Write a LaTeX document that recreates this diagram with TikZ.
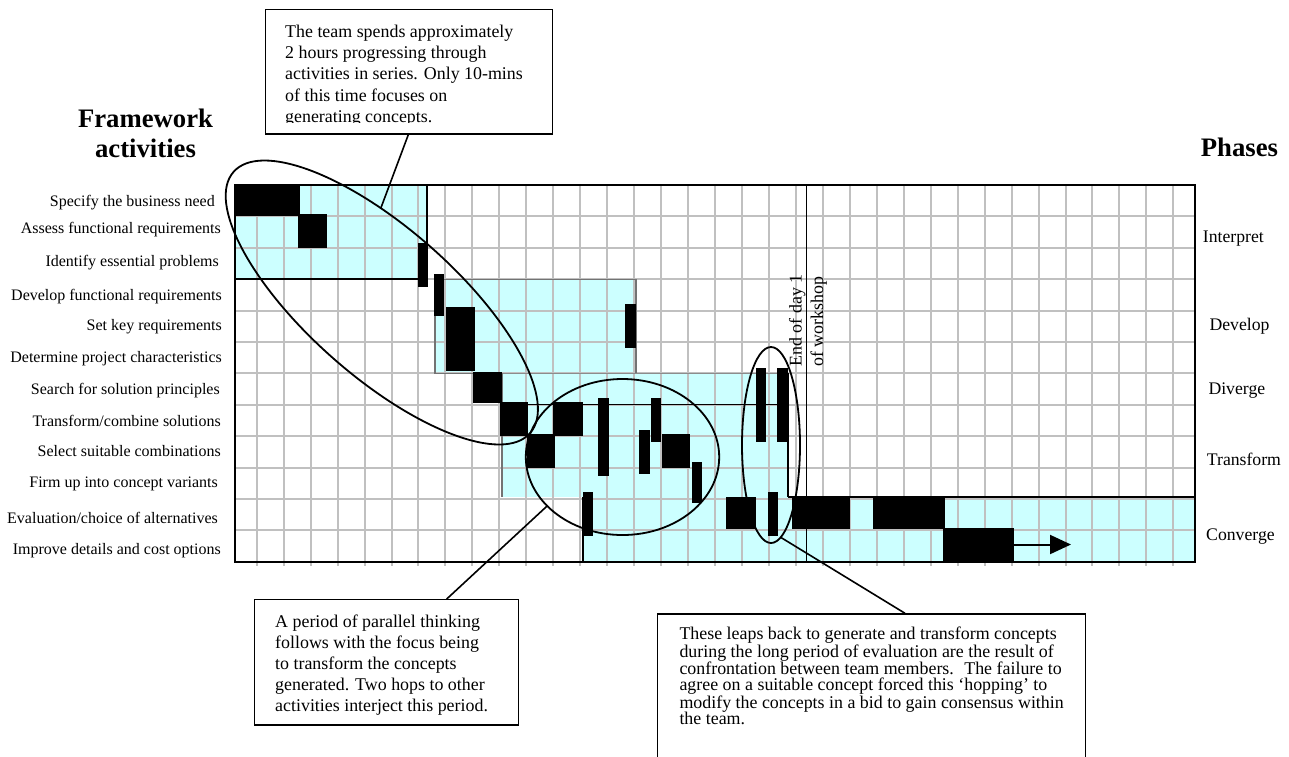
\documentclass[tikz,border=0pt]{standalone}
\usepackage{fontspec}
\setmainfont{Liberation Serif}
\usetikzlibrary{shapes.geometric,arrows.meta}
\definecolor{phasecyan}{HTML}{CCFFFF}
\definecolor{gridgrey}{HTML}{C0C0C0}
\begin{document}
\begin{tikzpicture}[x=1pt,y=1pt,
  gridline/.style={draw=gridgrey,line width=2pt},
  phaseedge/.style={draw=black!55,line width=1.2pt},
  frameline/.style={draw=black,line width=1.8pt},
  ring/.style={draw=black,ellipse,line width=1.8pt,inner sep=0pt,outer sep=0pt},
  callout/.style={draw=black,rectangle,line width=1.4pt,fill=white,inner sep=0pt,anchor=north west},
  calltext/.style={align=left,inner sep=0pt,anchor=north west,font=\fontsize{17.9}{21.1}\selectfont},
  tighttext/.style={align=left,inner sep=0pt,anchor=north west,font=\fontsize{17.9}{16.3}\selectfont},
  leader/.style={draw=black,line width=1.6pt},
  actlabel/.style={inner sep=0pt,anchor=base east,font=\fontsize{16}{19}\selectfont},
  phaselabel/.style={inner sep=0pt,anchor=base west,font=\fontsize{17.7}{21}\selectfont},
  heading/.style={inner sep=0pt,font=\fontsize{26.7}{30}\selectfont\bfseries},
  daylabel/.style={inner sep=0pt,rotate=90,anchor=base west,font=\fontsize{17.9}{21}\selectfont}]
\useasboundingbox (0,0) rectangle (1289,-756);
\fill[white] (0,0) rectangle (1289,-756);

% phase areas
\fill[phasecyan] (235,-185) rectangle (427,-279.2);     % interpret
\fill[phasecyan] (435,-279.2) rectangle (636,-373.4);   % develop
\fill[phasecyan] (502,-373.4) rectangle (788,-497);     % diverge + transform
\fill[phasecyan] (583,-497) rectangle (1195,-561.8);    % converge

% time grid
\foreach \k in {1,...,35}{
  \pgfmathsetmacro\gx{229.74+26.96*\k}
  \draw[gridline] (\gx,-185) -- (\gx,-566);
}
\foreach \j in {1,...,11}{
  \pgfmathsetmacro\gy{-185-31.4*\j}
  \draw[gridline] (235,\gy) -- (1195,\gy);
}

% phase borders
\draw[frameline] (427,-185) -- (427,-279.2) -- (235,-279.2);
\draw[phaseedge] (435,-279.2) rectangle (636,-373.4);
\draw[draw=black!45,line width=1.2pt] (502,-373.4) -- (788,-373.4);
\draw[phaseedge] (502,-373.4) -- (502,-497);
\draw[draw=black,line width=1.3pt] (502,-404.8) -- (788,-404.8);
\draw[draw=black,line width=1.5pt] (788,-373.4) -- (788,-497);
\draw[draw=black,line width=2.4pt] (788,-497) -- (1195,-497);
\draw[draw=black,line width=2.4pt] (583,-497) -- (583,-561.8) -- (1195,-561.8);
\draw[frameline] (235,-185) rectangle (1195,-561.8);

% end of the first day
\draw[draw=black,line width=1.5pt] (806.7,-185) -- (806.7,-561.8);
\node[daylabel] (day1) at (801.7,-366.7) {End of day 1};
\node[daylabel] (day2) at (823,-366.7) {of workshop};

% activity bars
\foreach \xa/\ya/\xb/\yb in {
  235/185/300/215.7, 298.3/214.3/327.3/248.3, 418.3/242.7/428.3/286.7,
  433.7/274.3/444.3/316, 445.5/306.7/474.7/371, 625/304.3/636/348.3,
  473.3/372.3/501.7/403.3, 500/402.3/528.3/435.7, 526.7/434/555/467.7,
  553.3/402.3/582.7/435.7, 598.3/397.7/609/475.7, 639/430/650/474.3,
  651/397.7/661/442.3, 662.3/434/690/467.7, 692.3/461.7/702.3/503.3,
  755.7/367.7/766/442.3, 776.7/367.7/788.3/442.3, 726/496.7/756/529.3,
  768.3/491.7/778.3/535.7, 582.7/491.7/593.3/535.7, 791.7/496.7/850/529.3,
  873.3/496/945/529.3, 943.3/528.3/1014/560.7}
  \fill[black] (\xa,-\ya) rectangle (\xb,-\yb);

% continuation arrow
\coordinate (barend) at (1014,-544.5);
\coordinate (arrowtip) at (1071,-544.5);
\draw[black,line width=2pt,-{Triangle[length=21pt,width=19pt]}] (barend) -- (arrowtip);

% highlighted episodes
\node[ring,rotate=-41.4,minimum width=395.2,minimum height=148] (e1) at (381.8,-302.5) {};
\node[ring,minimum width=193.4,minimum height=156] (e2) at (622.5,-457) {};
\node[ring,minimum width=58,minimum height=196] (e3) at (771,-445) {};

% callouts (the third one runs on past the lower edge)
\node[callout,minimum width=287,minimum height=124.3] (boxA) at (265,-9) {};
\node[callout,minimum width=263.7,minimum height=125.3] (boxB) at (254,-599) {};
\node[callout,minimum width=428.3,minimum height=160] (boxC) at (656.7,-613.3) {};

\draw[leader] (408.3,0 |- boxA.south) -- (e1.132);
\draw[leader] (446.7,0 |- boxB.north) -- (e2.213);
\draw[leader] (905,0 |- boxC.north) -- (e3.276);

\begin{scope}
  \clip (265,-9) rectangle (552,-122);
  \node[calltext] (textA) at (285,-24.5) {\rule{0pt}{13pt}The team spends approximately\\
    2 hours progressing through\\
    activities in series. Only 10-mins\\
    of this time focuses on\\
    generating concepts.};
\end{scope}

\begin{scope}
  \clip (254,-599) rectangle (517.7,-714);
  \node[calltext] (textB) at (275,-613.8) {\rule{0pt}{13pt}A period of parallel thinking\\
    follows with the focus being\\
    to transform the concepts\\
    generated. Two hops to other\\
    activities interject this period.};
\end{scope}

\node[tighttext] (textC) at (679.3,-626.5)
  {\rule{0pt}{13pt}These leaps back to generate and transform concepts\\
   during the long period of evaluation are the result of\\
   confrontation between team members.~ The failure to\\
   agree on a suitable concept forced this `hopping' to\\
   modify the concepts in a bid to gain consensus within\\
   the team.};

% headings
\node[heading,anchor=base] (fw1) at (145.5,-127) {Framework};
\node[heading,anchor=base] (fw2) at (145.5,-157) {activities};
\node[heading,anchor=base west] (ph) at (1200.7,-156) {Phases};

% activity labels
\node[actlabel] (a1) at (215,-206.7) {Specify the business need};
\node[actlabel] (a2) at (221,-233.3) {Assess functional requirements};
\node[actlabel] (a3) at (219,-266.7) {Identify essential problems};
\node[actlabel] (a4) at (222,-300.5) {Develop functional requirements};
\node[actlabel] (a5) at (222,-330.5) {Set key requirements};
\node[actlabel] (a6) at (222,-362.5) {Determine project characteristics};
\node[actlabel] (a7) at (220,-394.5) {Search for solution principles};
\node[actlabel] (a8) at (221,-426) {Transform/combine solutions};
\node[actlabel] (a9) at (221,-456.7) {Select suitable combinations};
\node[actlabel] (a10) at (218,-487.3) {Firm up into concept variants};
\node[actlabel] (a11) at (218,-523.3) {Evaluation/choice of alternatives};
\node[actlabel] (a12) at (221,-554) {Improve details and cost options};

% phase labels
\node[phaselabel] (p1) at (1202.7,-242) {Interpret};
\node[phaselabel] (p2) at (1209.3,-330) {Develop};
\node[phaselabel] (p3) at (1208.3,-394) {Diverge};
\node[phaselabel] (p4) at (1206.7,-465) {Transform};
\node[phaselabel] (p5) at (1206,-540) {Converge};
\end{tikzpicture}
\end{document}
